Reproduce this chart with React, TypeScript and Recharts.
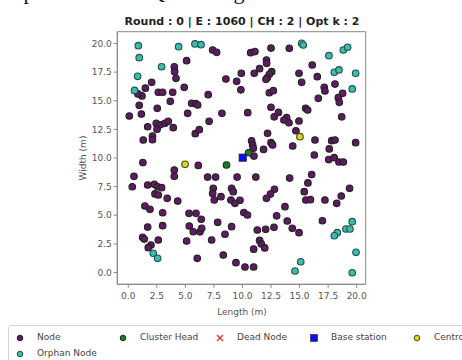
import React from 'react';
import { ScatterChart, Scatter, XAxis, YAxis, ReferenceArea } from 'recharts';

const titleText = 'Round : 0 | E : 1060 | CH : 2 | Opt k : 2';
const xLabel = 'Length (m)';
const yLabel = 'Width (m)';
const xTicks = [0, 2.5, 5, 7.5, 10, 12.5, 15, 17.5, 20];
const yTicks = [0, 2.5, 5, 7.5, 10, 12.5, 15, 17.5, 20];

const nodes: [number, number][] = [
  [0.09, 13.67], [1.2, 15.42], [1.5, 16.1], [0.96, 14.6], [1.15, 13.84], [1.7, 12.73], [1.31, 11.57],
  [2.05, 16.61], [2.63, 15.74], [3.01, 15.74], [2.54, 14.34], [2.45, 13.03], [2.8, 12.9], [3.21, 13.03],
  [3.5, 13.2], [2.52, 12.52], [3.94, 12.65], [2.12, 11.92], [2.12, 11.6], [3.68, 14.95], [3.89, 15.74],
  [4.03, 17.97], [4.06, 17.54], [4.18, 16.96], [5.11, 18.5], [4.9, 16.17], [5.2, 13.9], [5.55, 14.78],
  [5.9, 14.75], [6.08, 14.63], [5.87, 12.12], [6.22, 12.47], [7.0, 15.53], [7.08, 13.2], [7.39, 19.43],
  [7.74, 19.23], [8.2, 13.9], [8.55, 16.9], [9.49, 16.7], [9.86, 15.95], [9.9, 17.4], [10.46, 13.96],
  [10.8, 11.5], [10.89, 11.14], [10.95, 10.85], [11.0, 10.17], [10.72, 19.2], [11.09, 19.29], [11.03, 17.4],
  [11.5, 17.8], [12.1, 18.55], [12.12, 18.27], [12.5, 19.6], [12.56, 17.54], [12.35, 17.31], [12.17, 17.01],
  [12.06, 16.87], [12.35, 15.7], [12.7, 15.88], [12.5, 14.43], [12.78, 13.6], [13.15, 13.98], [12.2, 12.16],
  [12.5, 11.34], [12.64, 11.14], [11.85, 10.75], [14.1, 19.58], [14.95, 17.4], [15.18, 16.61], [16.11, 18.12],
  [16.55, 17.1], [17.16, 16.17], [17.22, 15.85], [18.1, 16.46], [18.77, 15.65], [18.39, 15.27], [18.48, 14.86],
  [16.64, 15.21], [13.87, 13.52], [13.63, 13.32], [14.07, 13.08], [14.95, 13.23], [15.53, 14.34], [15.71, 14.19],
  [18.69, 13.6], [14.68, 12.38], [14.4, 11.05], [16.35, 11.57], [17.81, 11.51], [18.1, 11.57], [17.6, 10.79],
  [19.91, 11.34], [16.29, 10.26], [17.55, 9.86], [18.03, 10.03], [18.45, 9.65], [18.83, 9.65], [0.85, 15.6],
  [6.13, 9.35], [1.28, 9.6], [0.5, 8.4], [0.35, 7.49], [4.03, 8.95], [4.03, 8.4], [6.95, 8.33], [7.65, 8.33],
  [9.53, 8.33], [11.17, 8.33], [14.13, 8.25], [16.06, 8.55], [15.73, 7.82], [15.41, 7.06], [15.55, 6.33],
  [15.95, 6.36], [19.38, 7.35], [18.65, 6.68], [18.25, 6.04], [17.22, 6.33], [12.8, 7.27], [12.45, 6.85],
  [12.1, 6.48], [9.78, 6.3], [10.12, 5.24], [10.44, 5.02], [13.72, 5.75], [12.99, 4.95], [13.92, 4.5],
  [14.36, 3.86], [14.95, 3.48], [11.3, 3.71], [12.03, 3.77], [12.76, 3.95], [11.5, 2.8], [11.65, 2.5],
  [11.95, 2.15], [10.98, 2.04], [17.0, 4.52], [10.22, 0.48], [10.98, 0.48], [9.43, 0.86], [8.32, 1.53],
  [6.04, 1.24], [7.3, 2.84], [8.47, 3.34], [9.05, 4.0], [7.83, 4.38], [5.11, 2.75], [5.32, 5.17], [5.93, 5.17],
  [6.39, 4.65], [5.34, 4.06], [5.69, 3.56], [6.28, 3.55], [6.43, 3.86], [7.44, 7.35], [7.39, 6.91], [7.53, 6.33],
  [8.12, 6.62], [9.05, 7.35], [9.19, 7.06], [8.99, 6.33], [9.34, 6.04], [1.7, 7.64], [2.28, 7.7], [2.57, 7.49],
  [2.92, 7.41], [2.34, 6.86], [2.63, 6.77], [3.41, 6.48], [4.33, 6.24], [1.46, 5.81], [1.9, 5.52], [3.01, 5.22],
  [3.01, 4.09], [1.7, 3.97], [1.26, 3.07], [1.4, 2.92], [1.99, 2.4], [1.75, 2.17], [2.63, 2.84],
];

const orphanNodes: [number, number][] = [
  [0.88, 19.81], [0.96, 18.76], [0.82, 17.13], [0.55, 15.9], [2.92, 17.97], [4.41, 19.72], [5.84, 19.96],
  [6.37, 19.9], [15.18, 20.02], [15.32, 19.87], [17.57, 18.94], [18.83, 19.43], [19.21, 19.67], [18.04, 17.49],
  [18.45, 17.69], [19.91, 17.4], [19.61, 16.03], [19.61, 4.44], [19.06, 3.8], [19.41, 3.8], [18.3, 3.48],
  [18.04, 3.21], [19.94, 1.76], [19.61, -0.02], [15.1, 0.94], [14.6, 0.13], [2.19, 1.68], [2.57, 1.24],
];

const clusterHeads: [number, number][] = [[8.6, 9.39], [10.54, 10.46]];
const baseStation: [number, number][] = [[10.02, 10.03]];
const centroids: [number, number][] = [[4.97, 9.45], [15.03, 11.86]];

const toPts = (a: [number, number][]) => a.map(([x, y]) => ({ x, y }));

const circleShape = (fill: string, stroke: string) => (p: any) => (
  <circle cx={p.cx} cy={p.cy} r={3.3} fill={fill} stroke={stroke} strokeWidth={1.1} />
);
const squareShape = (fill: string, stroke: string) => (p: any) => (
  <rect x={p.cx - 3.6} y={p.cy - 3.6} width={7.2} height={7.2} fill={fill} stroke={stroke} strokeWidth={0.8} />
);

const C_NODE = '#5e1a63';
const C_NODE_E = '#222222';
const C_ORPH = '#3dbcad';
const C_ORPH_E = '#1f534d';
const C_CH = '#1c7a2a';
const C_CH_E = '#1a2a1a';
const C_BS = '#0a10f0';
const C_CEN = '#d8d820';
const C_CEN_E = '#4a4a10';

const font = "'DejaVu Sans', sans-serif";

const legendItems = [
  { label: 'Node', kind: 'c', fill: C_NODE, stroke: C_NODE_E, x: 14, y: 0 },
  { label: 'Cluster Head', kind: 'c', fill: C_CH, stroke: C_CH_E, x: 117, y: 0 },
  { label: 'Dead Node', kind: 'x', fill: '#e83a3a', stroke: '#e83a3a', x: 214, y: 0 },
  { label: 'Base station', kind: 's', fill: C_BS, stroke: '#222', x: 308, y: 0 },
  { label: 'Centroid', kind: 'c', fill: C_CEN, stroke: C_CEN_E, x: 411, y: 0 },
  { label: 'Orphan Node', kind: 'c', fill: C_ORPH, stroke: C_ORPH_E, x: 14, y: 16 },
];

function Marker({ kind, fill, stroke }: { kind: string; fill: string; stroke: string }) {
  return (
    <svg width={10} height={10} style={{ position: 'absolute', left: 0, top: 0 }}>
      {kind === 'c' && <circle cx={5} cy={5} r={2.8} fill={fill} stroke={stroke} strokeWidth={1} />}
      {kind === 's' && <rect x={1.5} y={1.5} width={7} height={7} fill={fill} stroke={stroke} strokeWidth={0.6} />}
      {kind === 'x' && (
        <g stroke={stroke} strokeWidth={1.5}>
          <line x1={2} y1={2} x2={8} y2={8} />
          <line x1={8} y1={2} x2={2} y2={8} />
        </g>
      )}
    </svg>
  );
}

export default function App() {
  return (
    <div style={{ position: 'absolute', left: 0, top: 0, width: 462, height: 360, overflow: 'hidden', background: '#fff' }}>
      <div
        style={{
          position: 'absolute', right: 212, top: -21, whiteSpace: 'nowrap',
          fontFamily: "'Liberation Serif', serif", fontSize: 22, color: '#111',
        }}
      >
        the parameters of Q-learning.
      </div>
      <div
        style={{
          position: 'absolute', left: 0, width: 484, top: 14.5, textAlign: 'center',
          fontFamily: font, fontSize: 11, fontWeight: 'bold', color: '#222', whiteSpace: 'nowrap',
        }}
      >
        {titleText}
      </div>
      <div
        style={{
          position: 'absolute', left: 83, top: 158, transform: 'translate(-50%, -50%) rotate(-90deg)',
          fontFamily: font, fontSize: 9, color: '#555', whiteSpace: 'nowrap',
        }}
      >
        {yLabel}
      </div>
      <div
        style={{
          position: 'absolute', left: 0, width: 484, top: 306.5, textAlign: 'center',
          fontFamily: font, fontSize: 9, color: '#555', whiteSpace: 'nowrap',
        }}
      >
        {xLabel}
      </div>
      <div style={{ position: 'absolute', left: 0, top: 0 }}>
        <ScatterChart width={462} height={360} margin={{ top: 31.7, right: 96.3, left: 0, bottom: 45.7 }}>
          <XAxis
            type="number" dataKey="x" domain={[-0.96, 20.79]} ticks={xTicks} allowDataOverflow
            tickFormatter={(v: number) => v.toFixed(1)} height={30} tickSize={3.5} tickMargin={5}
            stroke="#888" tick={{ fill: '#555', fontSize: 9, fontFamily: font }}
          />
          <YAxis
            type="number" dataKey="y" domain={[-1.03, 21.03]} ticks={yTicks} allowDataOverflow
            tickFormatter={(v: number) => v.toFixed(1)} width={117.3} tickSize={3.5} tickMargin={2}
            stroke="#888" tick={{ fill: '#555', fontSize: 9, fontFamily: font }}
          />
          <ReferenceArea x1={-0.96} x2={20.79} y1={-1.03} y2={21.03} fill="none" stroke="#888" strokeWidth={1} />
          <Scatter data={toPts(nodes)} shape={circleShape(C_NODE, C_NODE_E)} isAnimationActive={false} />
          <Scatter data={toPts(clusterHeads)} shape={circleShape(C_CH, C_CH_E)} isAnimationActive={false} />
          <Scatter data={toPts(baseStation)} shape={squareShape(C_BS, '#222')} isAnimationActive={false} />
          <Scatter data={toPts(centroids)} shape={circleShape(C_CEN, C_CEN_E)} isAnimationActive={false} />
          <Scatter data={toPts(orphanNodes)} shape={circleShape(C_ORPH, C_ORPH_E)} isAnimationActive={false} />
        </ScatterChart>
      </div>
      <div
        style={{
          position: 'absolute', left: 8, top: 325, width: 480, height: 44, border: '1px solid #d4d4d4',
          borderRadius: 3, background: '#fff', fontFamily: font, fontSize: 9, color: '#444',
        }}
      >
        {legendItems.map((it) => (
          <div key={it.label} style={{ position: 'absolute', left: it.x - 8, top: it.y + 7, height: 10, whiteSpace: 'nowrap' }}>
            <Marker kind={it.kind} fill={it.fill} stroke={it.stroke} />
            <span style={{ position: 'absolute', left: 22, top: -1, lineHeight: '11px' }}>{it.label}</span>
          </div>
        ))}
      </div>
    </div>
  );
}
